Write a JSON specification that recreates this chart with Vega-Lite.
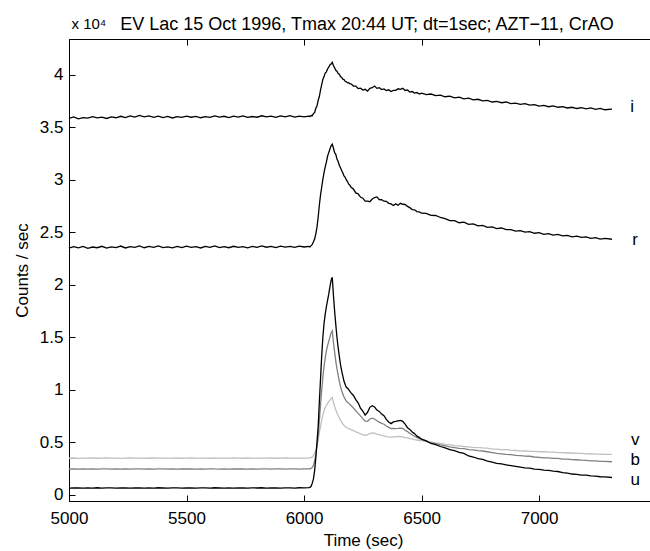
{
  "$schema": "https://vega.github.io/schema/vega-lite/v6.json",
  "width": 582,
  "height": 462,
  "autosize": {"type": "none"},
  "padding": {"left": 69, "top": 39, "right": 0, "bottom": 50},
  "background": "white",
  "config": {
    "view": {"stroke": "black", "strokeWidth": 1},
    "font": "Liberation Sans",
    "axis": {
      "domain": true,
      "domainColor": "black",
      "domainWidth": 1,
      "ticks": true,
      "tickColor": "black",
      "tickWidth": 1,
      "tickSize": -6,
      "labelColor": "black",
      "labelFont": "Liberation Sans",
      "labelFontSize": 17,
      "labelFlush": false,
      "labelOverlap": false,
      "titleFont": "Liberation Sans",
      "titleFontSize": 17,
      "titleFontWeight": "normal",
      "titleColor": "black",
      "grid": false
    }
  },
  "title": {
    "text": "EV Lac 15 Oct 1996, Tmax 20:44 UT; dt=1sec; AZT−11, CrAO",
    "font": "Liberation Sans",
    "fontSize": 18,
    "fontWeight": "normal",
    "color": "black",
    "anchor": "middle",
    "frame": "group",
    "baseline": "alphabetic",
    "offset": 0,
    "dy": 32,
    "dx": 7
  },
  "resolve": {"axis": {"x": "independent", "y": "independent"}},
  "layer": [
    {
      "data": {
        "values": [
          {"t":5000,"i":35850,"r":23480,"v":3470,"b":2440,"u":630},
          {"t":5020,"i":35980,"r":23620,"v":3495,"b":2460,"u":655},
          {"t":5040,"i":35790,"r":23510,"v":3465,"b":2435,"u":640},
          {"t":5060,"i":35920,"r":23640,"v":3490,"b":2455,"u":620},
          {"t":5080,"i":35860,"r":23470,"v":3480,"b":2445,"u":650},
          {"t":5100,"i":36010,"r":23590,"v":3500,"b":2465,"u":635},
          {"t":5120,"i":35880,"r":23520,"v":3470,"b":2440,"u":660},
          {"t":5140,"i":35950,"r":23660,"v":3485,"b":2450,"u":625},
          {"t":5160,"i":35830,"r":23490,"v":3495,"b":2460,"u":645},
          {"t":5180,"i":35990,"r":23600,"v":3475,"b":2435,"u":655},
          {"t":5200,"i":35900,"r":23530,"v":3490,"b":2455,"u":630},
          {"t":5220,"i":36040,"r":23680,"v":3465,"b":2445,"u":650},
          {"t":5240,"i":35920,"r":23500,"v":3485,"b":2460,"u":640},
          {"t":5260,"i":36080,"r":23620,"v":3500,"b":2440,"u":625},
          {"t":5280,"i":35960,"r":23550,"v":3475,"b":2450,"u":655},
          {"t":5300,"i":36120,"r":23690,"v":3490,"b":2465,"u":640},
          {"t":5320,"i":35990,"r":23520,"v":3480,"b":2445,"u":620},
          {"t":5340,"i":36070,"r":23650,"v":3470,"b":2455,"u":650},
          {"t":5360,"i":35940,"r":23560,"v":3495,"b":2440,"u":635},
          {"t":5380,"i":36050,"r":23700,"v":3485,"b":2460,"u":660},
          {"t":5400,"i":35910,"r":23540,"v":3475,"b":2450,"u":640},
          {"t":5420,"i":36020,"r":23610,"v":3490,"b":2445,"u":625},
          {"t":5440,"i":35880,"r":23500,"v":3480,"b":2465,"u":655},
          {"t":5460,"i":36000,"r":23640,"v":3500,"b":2440,"u":645},
          {"t":5480,"i":35930,"r":23530,"v":3470,"b":2455,"u":630},
          {"t":5500,"i":36060,"r":23670,"v":3485,"b":2450,"u":650},
          {"t":5520,"i":35950,"r":23550,"v":3495,"b":2460,"u":640},
          {"t":5540,"i":36030,"r":23620,"v":3475,"b":2445,"u":620},
          {"t":5560,"i":35900,"r":23500,"v":3490,"b":2455,"u":655},
          {"t":5580,"i":36010,"r":23650,"v":3480,"b":2440,"u":645},
          {"t":5600,"i":35940,"r":23560,"v":3470,"b":2465,"u":630},
          {"t":5620,"i":36070,"r":23690,"v":3495,"b":2450,"u":660},
          {"t":5640,"i":35960,"r":23540,"v":3485,"b":2445,"u":640},
          {"t":5660,"i":36040,"r":23630,"v":3475,"b":2460,"u":625},
          {"t":5680,"i":35920,"r":23520,"v":3490,"b":2440,"u":650},
          {"t":5700,"i":36050,"r":23660,"v":3500,"b":2455,"u":635},
          {"t":5720,"i":35970,"r":23550,"v":3480,"b":2450,"u":655},
          {"t":5740,"i":36080,"r":23620,"v":3470,"b":2465,"u":640},
          {"t":5760,"i":35930,"r":23510,"v":3495,"b":2445,"u":625},
          {"t":5780,"i":36020,"r":23640,"v":3485,"b":2455,"u":650},
          {"t":5800,"i":35950,"r":23560,"v":3475,"b":2440,"u":640},
          {"t":5820,"i":36090,"r":23690,"v":3490,"b":2460,"u":660},
          {"t":5840,"i":35980,"r":23570,"v":3480,"b":2450,"u":630},
          {"t":5860,"i":36060,"r":23640,"v":3500,"b":2445,"u":650},
          {"t":5880,"i":35940,"r":23530,"v":3470,"b":2465,"u":640},
          {"t":5900,"i":36070,"r":23670,"v":3485,"b":2455,"u":625},
          {"t":5920,"i":35990,"r":23580,"v":3495,"b":2440,"u":655},
          {"t":5940,"i":36100,"r":23650,"v":3475,"b":2460,"u":645},
          {"t":5960,"i":35960,"r":23550,"v":3490,"b":2450,"u":635},
          {"t":5980,"i":36050,"r":23680,"v":3480,"b":2445,"u":660},
          {"t":6000,"i":35980,"r":23590,"v":3485,"b":2455,"u":645},
          {"t":6020,"i":36060,"r":23650,"v":3495,"b":2460,"u":665},
          {"t":6025,"i":36020,"r":23600,"v":3500,"b":2470,"u":700},
          {"t":6030,"i":36110,"r":23720,"v":3530,"b":2510,"u":800},
          {"t":6035,"i":36090,"r":23830,"v":3600,"b":2600,"u":1100},
          {"t":6040,"i":36300,"r":24080,"v":3720,"b":2800,"u":1500},
          {"t":6045,"i":36380,"r":24350,"v":3950,"b":3250,"u":2300},
          {"t":6050,"i":36800,"r":24850,"v":4200,"b":3800,"u":3500},
          {"t":6055,"i":37020,"r":25480,"v":4700,"b":4600,"u":5000},
          {"t":6060,"i":37550,"r":26420,"v":5200,"b":5500,"u":6500},
          {"t":6065,"i":37920,"r":27570,"v":5900,"b":7000,"u":8800},
          {"t":6070,"i":38540,"r":28530,"v":6500,"b":8500,"u":11000},
          {"t":6075,"i":39060,"r":29280,"v":7100,"b":9900,"u":13200},
          {"t":6080,"i":39550,"r":30040,"v":7600,"b":11200,"u":15000},
          {"t":6085,"i":39820,"r":30680,"v":8000,"b":12200,"u":16300},
          {"t":6090,"i":40150,"r":31230,"v":8300,"b":13000,"u":17200},
          {"t":6095,"i":40270,"r":31680,"v":8500,"b":13700,"u":17900},
          {"t":6100,"i":40540,"r":32230,"v":8700,"b":14200,"u":18500},
          {"t":6105,"i":40720,"r":32580,"v":8850,"b":14600,"u":19100},
          {"t":6110,"i":40930,"r":32920,"v":9000,"b":15000,"u":19800},
          {"t":6115,"i":41020,"r":33230,"v":9150,"b":15400,"u":20400},
          {"t":6120,"i":41180,"r":33380,"v":9250,"b":15600,"u":20700},
          {"t":6125,"i":40880,"r":33020,"v":8800,"b":14500,"u":19000},
          {"t":6130,"i":40650,"r":32580,"v":8400,"b":13600,"u":17500},
          {"t":6135,"i":40420,"r":32420,"v":8100,"b":12700,"u":16200},
          {"t":6140,"i":40330,"r":31970,"v":7800,"b":12000,"u":15000},
          {"t":6145,"i":40120,"r":31730,"v":7550,"b":11400,"u":14000},
          {"t":6150,"i":40040,"r":31370,"v":7300,"b":10800,"u":13200},
          {"t":6155,"i":39820,"r":31130,"v":7100,"b":10300,"u":12400},
          {"t":6160,"i":39740,"r":30870,"v":6900,"b":9900,"u":11800},
          {"t":6165,"i":39570,"r":30630,"v":6750,"b":9600,"u":11300},
          {"t":6170,"i":39540,"r":30370,"v":6600,"b":9300,"u":10800},
          {"t":6175,"i":39370,"r":30230,"v":6500,"b":9100,"u":10500},
          {"t":6180,"i":39330,"r":29970,"v":6400,"b":8900,"u":10200},
          {"t":6185,"i":39220,"r":29830,"v":6350,"b":8800,"u":10150},
          {"t":6190,"i":39240,"r":29570,"v":6300,"b":8700,"u":10000},
          {"t":6195,"i":39120,"r":29480,"v":6250,"b":8600,"u":9850},
          {"t":6200,"i":39130,"r":29270,"v":6200,"b":8500,"u":9700},
          {"t":6210,"i":38920,"r":29110,"v":6110,"b":8260,"u":9450},
          {"t":6220,"i":38910,"r":28740,"v":5990,"b":8010,"u":9050},
          {"t":6230,"i":38680,"r":28650,"v":5920,"b":7740,"u":8750},
          {"t":6240,"i":38720,"r":28350,"v":5790,"b":7510,"u":8250},
          {"t":6250,"i":38540,"r":28240,"v":5730,"b":7240,"u":7950},
          {"t":6260,"i":38610,"r":27960,"v":5640,"b":7010,"u":7580},
          {"t":6270,"i":38440,"r":27950,"v":5710,"b":6990,"u":7850},
          {"t":6280,"i":38700,"r":27900,"v":5810,"b":7210,"u":8320},
          {"t":6290,"i":38760,"r":28160,"v":5890,"b":7290,"u":8480},
          {"t":6300,"i":38920,"r":28300,"v":5860,"b":7210,"u":8350},
          {"t":6310,"i":38700,"r":28360,"v":5770,"b":7040,"u":8060},
          {"t":6320,"i":38760,"r":28100,"v":5710,"b":6910,"u":7930},
          {"t":6330,"i":38590,"r":28090,"v":5640,"b":6790,"u":7680},
          {"t":6340,"i":38650,"r":27950,"v":5610,"b":6710,"u":7530},
          {"t":6350,"i":38490,"r":27940,"v":5540,"b":6540,"u":7170},
          {"t":6360,"i":38560,"r":27750,"v":5510,"b":6410,"u":6920},
          {"t":6370,"i":38400,"r":27700,"v":5490,"b":6290,"u":6770},
          {"t":6380,"i":38500,"r":27550,"v":5510,"b":6310,"u":6930},
          {"t":6390,"i":38510,"r":27700,"v":5520,"b":6290,"u":6980},
          {"t":6400,"i":38660,"r":27560,"v":5560,"b":6310,"u":7040},
          {"t":6410,"i":38600,"r":27750,"v":5540,"b":6340,"u":7080},
          {"t":6420,"i":38700,"r":27660,"v":5510,"b":6310,"u":6990},
          {"t":6430,"i":38500,"r":27640,"v":5440,"b":6140,"u":6720},
          {"t":6440,"i":38550,"r":27460,"v":5410,"b":6010,"u":6380},
          {"t":6450,"i":38350,"r":27340,"v":5340,"b":5840,"u":6220},
          {"t":6460,"i":38400,"r":27160,"v":5310,"b":5710,"u":5970},
          {"t":6470,"i":38250,"r":27130,"v":5240,"b":5540,"u":5820},
          {"t":6480,"i":38300,"r":26960,"v":5210,"b":5460,"u":5580},
          {"t":6490,"i":38150,"r":26940,"v":5160,"b":5340,"u":5460},
          {"t":6500,"i":38240,"r":26810,"v":5150,"b":5260,"u":5290},
          {"t":6520,"i":38100,"r":26800,"v":5080,"b":5110,"u":5120},
          {"t":6540,"i":38160,"r":26610,"v":5010,"b":4940,"u":4880},
          {"t":6560,"i":38000,"r":26590,"v":4940,"b":4860,"u":4760},
          {"t":6580,"i":38060,"r":26400,"v":4890,"b":4740,"u":4590},
          {"t":6600,"i":37900,"r":26300,"v":4800,"b":4660,"u":4460},
          {"t":6620,"i":37960,"r":26100,"v":4760,"b":4550,"u":4290},
          {"t":6640,"i":37800,"r":26110,"v":4670,"b":4490,"u":4190},
          {"t":6660,"i":37870,"r":25900,"v":4650,"b":4410,"u":4040},
          {"t":6680,"i":37700,"r":25950,"v":4590,"b":4380,"u":3940},
          {"t":6700,"i":37760,"r":25750,"v":4560,"b":4290,"u":3690},
          {"t":6720,"i":37600,"r":25800,"v":4510,"b":4260,"u":3590},
          {"t":6740,"i":37660,"r":25600,"v":4490,"b":4190,"u":3440},
          {"t":6760,"i":37500,"r":25650,"v":4450,"b":4160,"u":3360},
          {"t":6780,"i":37560,"r":25460,"v":4430,"b":4090,"u":3190},
          {"t":6800,"i":37400,"r":25500,"v":4350,"b":4010,"u":3110},
          {"t":6820,"i":37450,"r":25350,"v":4340,"b":3940,"u":2990},
          {"t":6840,"i":37330,"r":25400,"v":4290,"b":3890,"u":2930},
          {"t":6860,"i":37400,"r":25250,"v":4290,"b":3840,"u":2840},
          {"t":6880,"i":37250,"r":25240,"v":4240,"b":3810,"u":2760},
          {"t":6900,"i":37300,"r":25100,"v":4210,"b":3740,"u":2690},
          {"t":6920,"i":37180,"r":25150,"v":4170,"b":3730,"u":2630},
          {"t":6940,"i":37250,"r":25000,"v":4160,"b":3670,"u":2560},
          {"t":6960,"i":37100,"r":25050,"v":4120,"b":3660,"u":2530},
          {"t":6980,"i":37150,"r":24900,"v":4120,"b":3590,"u":2440},
          {"t":7000,"i":37000,"r":24950,"v":4090,"b":3560,"u":2410},
          {"t":7020,"i":37070,"r":24800,"v":4090,"b":3510,"u":2340},
          {"t":7040,"i":36950,"r":24870,"v":4050,"b":3510,"u":2310},
          {"t":7060,"i":37030,"r":24730,"v":4050,"b":3460,"u":2240},
          {"t":7080,"i":36900,"r":24790,"v":4010,"b":3460,"u":2210},
          {"t":7100,"i":36950,"r":24650,"v":4010,"b":3390,"u":2110},
          {"t":7120,"i":36830,"r":24700,"v":3970,"b":3380,"u":2060},
          {"t":7140,"i":36900,"r":24550,"v":3970,"b":3340,"u":1970},
          {"t":7160,"i":36780,"r":24630,"v":3930,"b":3330,"u":1940},
          {"t":7180,"i":36860,"r":24500,"v":3930,"b":3290,"u":1870},
          {"t":7200,"i":36750,"r":24550,"v":3890,"b":3260,"u":1860},
          {"t":7220,"i":36830,"r":24420,"v":3900,"b":3220,"u":1790},
          {"t":7240,"i":36700,"r":24480,"v":3860,"b":3220,"u":1760},
          {"t":7260,"i":36800,"r":24350,"v":3870,"b":3170,"u":1710},
          {"t":7280,"i":36660,"r":24420,"v":3840,"b":3170,"u":1700},
          {"t":7310,"i":36720,"r":24330,"v":3850,"b":3140,"u":1640}
        ]
      },
      "transform": [{"fold": ["v", "b", "u", "r", "i"], "as": ["band", "count"]}],
      "mark": {"type": "line"},
      "encoding": {
        "x": {
          "field": "t", "type": "quantitative",
          "scale": {"domain": [5000, 7476], "nice": false, "zero": false},
          "axis": {
            "values": [5000, 5500, 6000, 6500, 7000],
            "format": "d",
            "labelPadding": 15,
            "labelBaseline": "top",
            "title": "Time (sec)",
            "titleX": 294,
            "titleY": 44,
            "titleBaseline": "alphabetic",
            "titleAnchor": null
          }
        },
        "y": {
          "field": "count", "type": "quantitative",
          "scale": {"domain": [-600, 43400], "nice": false, "zero": false},
          "axis": {
            "values": [0, 5000, 10000, 15000, 20000, 25000, 30000, 35000, 40000],
            "labelExpr": "datum.value / 10000",
            "labelPadding": 12,
            "title": "Counts / sec",
            "titleX": -47,
            "titleY": 231,
            "titleBaseline": "middle",
            "titleAngle": 270
          }
        },
        "color": {
          "field": "band", "type": "nominal",
          "scale": {"domain": ["v", "b", "u", "r", "i"], "range": ["#bfbfbf", "#808080", "#000000", "#000000", "#000000"]},
          "legend": null
        },
        "size": {
          "field": "band", "type": "nominal",
          "scale": {"domain": ["v", "b", "u", "r", "i"], "range": [1.3, 1.3, 1.4, 2.0, 2.0]},
          "legend": null
        }
      }
    },
    {
      "data": {
        "values": [
          {"t": 7396, "c": 36900, "s": "i"},
          {"t": 7408, "c": 24300, "s": "r"},
          {"t": 7409, "c": 5200, "s": "v"},
          {"t": 7409, "c": 3300, "s": "b"},
          {"t": 7409, "c": 1400, "s": "u"}
        ]
      },
      "mark": {"type": "text", "font": "Liberation Sans", "fontSize": 17, "color": "black", "align": "center", "baseline": "middle"},
      "encoding": {
        "x": {
          "field": "t", "type": "quantitative",
          "axis": {
            "orient": "top",
            "values": [5000, 5500, 6000, 6500, 7000],
            "labels": false,
            "domain": true,
            "ticks": true,
            "title": "x 10⁴",
            "titleX": 2,
            "titleY": -11,
            "titleAlign": "left",
            "titleBaseline": "alphabetic",
            "titleAnchor": null,
            "titleAngle": 0,
            "titleFontSize": 15
          }
        },
        "y": {"field": "c", "type": "quantitative", "axis": null},
        "text": {"field": "s"}
      }
    }
  ]
}
